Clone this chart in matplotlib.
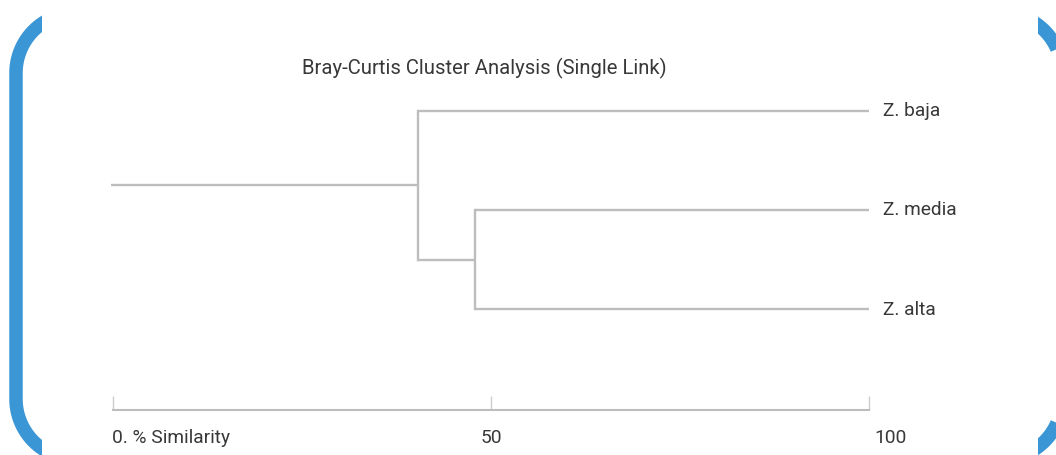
import matplotlib
matplotlib.use("Agg")
import matplotlib.pyplot as plt
import numpy as np
from matplotlib.patches import Rectangle

plt.rcParams['font.family'] = ['Roboto', 'DejaVu Sans']

# Bray-Curtis single link clustering result
leaves = ['Z. baja', 'Z. media', 'Z. alta']
leaf_similarity = 100.0
# (left member, right member, similarity %) -- members are leaf names or earlier merge indices
merges = [('Z. media', 'Z. alta', 47.9),
          ('Z. baja', 0, 40.3)]
root_start = -0.3

tick_values = [0, 50, 100]
tick_labels = ['0. % Similarity', '50', '100']
title = 'Bray-Curtis Cluster Analysis (Single Link)'

line_color = '#bdbdbd'
text_color = '#383838'
blue = '#3a96d4'

W, H = 1056, 456
fig = plt.figure(figsize=(W / 100, H / 100), dpi=100)
fig.patch.set_facecolor('white')

# blue rounded brackets on both sides
deco = fig.add_axes([0, 0, 1, 1])
deco.set_xlim(0, W)
deco.set_ylim(H, 0)
deco.axis('off')


def bracket(cx, side, clip_x):
    # side = -1 opens to the right (left bracket), +1 opens to the left
    r = 60
    top_c, bot_c = 74, 400
    th = np.linspace(0, np.pi / 2, 60)
    ac = cx - side * r
    xs_top = ac + side * r * np.cos(th[::-1])
    ys_top = top_c - r * np.sin(th[::-1])
    xs_bot = ac + side * r * np.cos(th)
    ys_bot = bot_c + r * np.sin(th)
    xs = np.concatenate([xs_top, xs_bot])
    ys = np.concatenate([ys_top, ys_bot])
    ln, = deco.plot(xs, ys, color=blue, lw=13.5 * 0.72, solid_capstyle='butt')
    if side < 0:
        clip = Rectangle((0, 0), clip_x, H, transform=deco.transData)
    else:
        clip = Rectangle((clip_x, 0), W - clip_x, H, transform=deco.transData)
    ln.set_clip_path(clip)


bracket(16, -1, 42)
bracket(1062, 1, 1038)

# dendrogram axes: x = similarity, y = leaf rows (1..n), axis line below the last row
x0, x1 = 113, 868.7
y_top_px, y_bot_px = 12.5, 411.3
ax = fig.add_axes([x0 / W, 1 - y_bot_px / H, (x1 - x0) / W, (y_bot_px - y_top_px) / H])
ax.set_xlim(0, 100)
ax.set_ylim(4.02, 0)
ax.patch.set_alpha(0)

lw = 1.7
pos = {name: i + 1 for i, name in enumerate(leaves)}
sim = {name: leaf_similarity for name in leaves}
for k, (a, b, s) in enumerate(merges):
    for m in (a, b):
        ax.plot([sim[m], s], [pos[m], pos[m]], color=line_color, lw=lw, solid_capstyle='butt')
    ax.plot([s, s], [pos[a], pos[b]], color=line_color, lw=lw, solid_capstyle='projecting')
    pos[k] = (pos[a] + pos[b]) / 2
    sim[k] = s
root = len(merges) - 1
ax.plot([sim[root], root_start], [pos[root], pos[root]], color=line_color, lw=lw,
        solid_capstyle='butt', clip_on=False)

for name in leaves:
    ax.text(101.86, pos[name] + 0.045, name, ha='left', va='baseline',
            fontsize=13.8, color=text_color)

for side in ['top', 'left', 'right']:
    ax.spines[side].set_visible(False)
ax.spines['bottom'].set_color(line_color)
ax.spines['bottom'].set_linewidth(1.5)
ax.set_yticks([])
ax.set_xticks(tick_values)
ax.set_xticklabels([])
ax.tick_params(axis='x', direction='in', length=10, width=1, color='#cccccc')

label_x = [-0.17, 50.1, 100.8]
label_ha = ['left', 'center', 'left']
for v, t, ha in zip(label_x, tick_labels, label_ha):
    ax.text(v, 4.343, t, ha=ha, va='baseline', fontsize=13.8, color=text_color, clip_on=False)

ax.text(49.2, 0.62, title, ha='center', va='baseline', fontsize=14.6, color=text_color)

fig.savefig('out.png', dpi=100)
